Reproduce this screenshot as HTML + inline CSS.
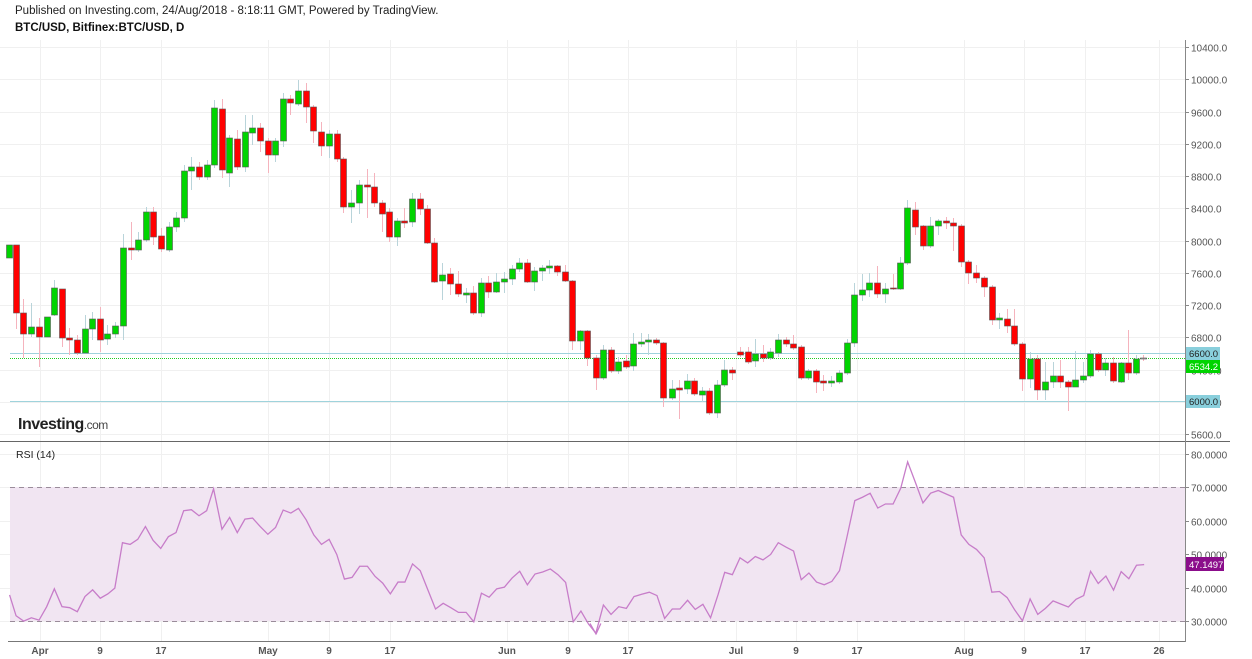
<!DOCTYPE html>
<html><head><meta charset="utf-8"><style>
body{margin:0;background:#fff;width:1252px;height:659px;overflow:hidden;font-family:"Liberation Sans",sans-serif}
</style></head><body>
<svg id="s" width="1252" height="659" xmlns="http://www.w3.org/2000/svg" style="position:absolute;left:0;top:0">
<text x="15" y="14" font-size="11.5" fill="#222">Published on Investing.com, 24/Aug/2018 - 8:18:11 GMT, Powered by TradingView.</text>
<text x="15" y="31" font-size="11.5" font-weight="bold" fill="#111">BTC/USD, Bitfinex:BTC/USD, D</text>
<g id="grid" stroke="#f0f0f0" stroke-width="1"></g>
<rect x="10" y="487" width="1175" height="134" fill="#f1e5f2"/>
<line x1="10" y1="487.5" x2="1185" y2="487.5" stroke="#9a8c9a" stroke-dasharray="5,4"/>
<line x1="10" y1="621.5" x2="1185" y2="621.5" stroke="#9a8c9a" stroke-dasharray="5,4"/>
<line x1="10" y1="353.5" x2="1185" y2="353.5" stroke="#9fd3dc"/>
<line x1="10" y1="401.5" x2="1185" y2="401.5" stroke="#9fd3dc"/>
<line x1="10" y1="358.5" x2="1185" y2="358.5" stroke="#22cc22" stroke-dasharray="1,1"/>
<g id="c"></g>
<g transform="translate(0,440) scale(0.3827,0.3367)"><polyline fill="none" stroke="#c77dc9" stroke-width="1.3" vector-effect="non-scaling-stroke" points="25,460 42,522 62,538 82,528 102,535 122,495 142,442 162,495 182,498 202,510 222,465 242,445 262,470 282,457 300,440 320,305 340,310 360,295 380,257 400,298 420,322 440,287 460,275 480,210 500,207 520,225 540,210 558,145 580,265 600,230 620,275 640,235 660,232 680,257 700,280 720,260 740,208 760,217 780,203 800,237 820,282 840,310 860,295 880,340 900,413 920,408 940,375 960,375 980,405 1000,425 1020,457 1040,422 1058,422 1078,368 1098,388 1118,445 1138,502 1158,485 1178,498 1198,512 1218,512 1238,540 1258,455 1278,467 1298,442 1318,437 1338,410 1358,390 1378,430 1398,398 1418,392 1438,383 1458,400 1478,423 1498,540 1518,508 1538,547 1558,575 1570,545"/></g>
<g transform="translate(590,440) scale(0.3827,0.3367)"><polyline fill="none" stroke="#c77dc9" stroke-width="1.3" vector-effect="non-scaling-stroke" points="0,545 15,575 35,490 55,518 75,495 95,500 115,465 135,458 155,452 175,462 195,530 215,502 235,502 255,476 275,503 295,488 315,528 335,458 352,393 372,400 392,350 412,365 432,346 452,356 472,340 492,305 512,318 532,330 552,415 572,395 592,422 612,430 632,420 652,388 672,285 692,180 712,170 732,158 752,202 772,190 792,190 812,143 830,65 850,125 870,187 890,158 910,150 930,160 950,170 970,282 990,310 1010,325 1030,350 1050,452 1070,450 1090,468 1110,505 1130,537 1150,472 1170,518 1190,500 1210,478 1230,487 1250,496 1270,473 1290,462 1308,390 1328,426 1348,404 1368,446 1388,391 1408,412 1428,372 1448,370"/></g>
<line x1="0" y1="441.5" x2="1230" y2="441.5" stroke="#666"/>
<line x1="8" y1="641.5" x2="1185" y2="641.5" stroke="#777"/>
<line x1="1185.5" y1="40" x2="1185.5" y2="642" stroke="#888"/>
<g id="ax" font-size="10" fill="#555"></g>
<text x="18" y="429" font-size="16" font-weight="bold" fill="#222" letter-spacing="-0.5">Investing<tspan font-size="12" font-weight="normal" fill="#444">.com</tspan></text>
<text x="16" y="458" font-size="10.5" fill="#222">RSI (14)</text>
<rect x="1186" y="347" width="34" height="13" fill="#89cfdc"/><text x="1189" y="357" font-size="9.5" fill="#222">6600.0</text>
<rect x="1186" y="360" width="34" height="13" fill="#00d400"/><text x="1189" y="370" font-size="9.5" fill="#fff">6534.2</text>
<rect x="1186" y="395" width="34" height="13" fill="#89cfdc"/><text x="1189" y="405" font-size="9.5" fill="#222">6000.0</text>
<rect x="1186" y="557" width="38" height="14" fill="#8b0d8b"/><text x="1189" y="568" font-size="9.5" fill="#fff">47.1497</text>
</svg>
<script>
var NS="http://www.w3.org/2000/svg";
function el(p,t,a,txt){var e=document.createElementNS(NS,t);for(var k in a)e.setAttribute(k,a[k]);if(txt!=null)e.textContent=txt;document.getElementById(p).appendChild(e);return e;}
var vx=[40,100,161,268,329,390,507,568,628,736,796,857,964,1024,1085,1159];
var vl=["Apr","9","17","May","9","17","Jun","9","17","Jul","9","17","Aug","9","17","26"];
vx.forEach(function(x,i){el("grid","line",{x1:x+.5,y1:40,x2:x+.5,y2:641});
el("ax","text",{x:x,y:654,"text-anchor":"middle","font-weight":"bold",fill:"#555"},vl[i]);});
for(var p=5600;p<=10400;p+=400){var y=Math.round(47+(10400-p)/400*32.25)+.5;
el("grid","line",{x1:0,y1:y,x2:1185,y2:y});
el("ax","line",{x1:1185,y1:y,x2:1189,y2:y,stroke:"#888"});
el("ax","text",{x:1191,y:y+4},p.toFixed(1));}
[80,70,60,50,40,30].forEach(function(v){var y=Math.round(621-(v-30)*3.34)+.5;
el("grid","line",{x1:0,y1:y,x2:1185,y2:y});
el("ax","line",{x1:1185,y1:y,x2:1189,y2:y,stroke:"#888"});
el("ax","text",{x:1191,y:y+4},v.toFixed(4));});
var C=[
[9,245,258,'g'],[16,245,313,'r',245,329],[23,313,334,'r',299,358],[31,327,334,'g',303,337],[39,327,337,'r',318,367],[47,317,337,'g'],[54,288,315,'g',280,316],[62,289,338,'r',289,347],[69,338,340,'r',328,355],[77,340,353,'r',335,355],[85,329,353,'g',315,353],[92,319,329,'g',312,340],[100,319,340,'r',307,352],[107,334,339,'g',325,345],[115,326,334,'g',322,338],[123,248,326,'g',234,340],[131,248,250,'r',222,260],[138,240,250,'g',232,252],[146,212,240,'g',207,242],[153,212,237,'r',207,245],[161,236,249,'r',228,252],[169,227,250,'g',222,252],[176,218,227,'g',212,232],[184,171,218,'g',165,222],[191,167,171,'g',157,190],[199,167,177,'r',162,180],[207,165,177,'g',160,180],[214,108,165,'g',100,168],[222,109,170,'r',99,178],[229,138,173,'g',135,187],[237,139,167,'r',130,170],[245,132,167,'g',115,172],[252,128,133,'g',115,145],[260,128,141,'r',123,152],[268,141,155,'r',138,173],[275,141,155,'g',138,162],[283,99,141,'g',93,147],[290,99,103,'r',95,115],[298,91,104,'g',80,106],[306,91,107,'r',83,123],[313,107,131,'r',105,143],[321,132,146,'r',122,156],[329,134,146,'g',130,158],[337,134,159,'r',130,162],[343,159,207,'r',157,213],[351,203,207,'g',190,223],[359,185,203,'g',180,214],[367,185,187,'r',169,218],[374,187,203,'r',173,207],[382,203,214,'r',200,232],[389,212,237,'r',208,242],[397,221,237,'g',218,246],[404,221,223,'r',208,228],[412,199,222,'g',193,227],[420,199,209,'r',193,215],[427,209,243,'r',205,244],[434,243,282,'r',238,283],[442,275,281,'g',263,300],[450,274,284,'r',268,295],[458,284,294,'r',271,297],[466,293,295,'g',288,303],[473,293,313,'r',286,315],[481,283,313,'g',278,317],[488,283,292,'r',276,298],[496,282,292,'g',273,293],[504,279,282,'g',272,293],[512,269,279,'g',265,285],[519,263,269,'g',258,272],[527,263,282,'r',259,283],[534,271,282,'g',267,291],[542,268,271,'g',265,281],[549,266,268,'g',260,274],[557,266,272,'r',265,276],[565,272,281,'r',265,282],[572,281,341,'r',280,350],[580,331,341,'g',330,350],[587,331,358,'r',330,366],[596,358,378,'r',355,390],[603,350,378,'g',345,380],[611,350,371,'r',347,373],[618,362,371,'g',357,374],[626,361,367,'r',355,369],[633,344,366,'g',333,371],[641,342,344,'g',333,347],[648,340,342,'g',334,355],[656,340,343,'r',338,345],[663,343,398,'r',342,407],[672,389,398,'g',380,400],[679,388,390,'r',380,419],[687,381,389,'g',374,394],[694,381,394,'r',378,396],[702,391,395,'g',387,402],[709,391,413,'r',388,415],[717,385,413,'g',380,418],[724,370,385,'g',360,387],[732,370,373,'r',367,380],[740,352,355,'r',347,357],[748,352,362,'r',347,364],[755,354,361,'g',339,367],[763,354,358,'r',345,362],[770,352,358,'g',348,360],[778,340,353,'g',334,357],[786,340,344,'r',337,347],[793,344,348,'r',335,350],[801,347,378,'r',345,380],[808,371,378,'g',369,380],[816,371,382,'r',369,393],[823,381,383,'r',375,391],[831,381,383,'g',376,387],[839,373,382,'g',370,384],[847,343,373,'g',339,375],[854,295,343,'g',283,347],[862,290,295,'g',274,301],[869,283,290,'g',273,297],[877,283,294,'r',266,298],[885,289,294,'g',283,303],[893,288,289,'r',274,290],[900,263,289,'g',257,290],[907,208,263,'g',200,265],[915,210,227,'r',202,235],[923,226,246,'r',225,250],[930,226,246,'g',217,248],[938,221,226,'g',219,235],[946,221,223,'r',217,229],[953,223,226,'r',218,251],[961,226,262,'r',224,267],[968,262,273,'r',260,284],[976,273,278,'r',265,283],[984,278,287,'r',276,297],[992,287,320,'r',285,325],[999,318,320,'g',313,329],[1007,319,326,'r',309,333],[1014,326,344,'r',309,346],[1022,344,379,'r',342,391],[1030,359,379,'g',352,388],[1037,359,390,'r',355,400],[1045,382,390,'g',362,400],[1053,376,382,'g',362,388],[1060,376,382,'r',360,388],[1068,382,387,'r',380,411],[1075,380,387,'g',351,387],[1083,376,380,'g',362,383],[1090,354,376,'g',350,378],[1098,354,370,'r',352,372],[1105,363,370,'g',358,376],[1113,363,381,'r',357,383],[1121,363,382,'g',362,383],[1128,363,373,'r',330,380],[1136,359,373,'g',355,375],[1143,358,359,'n',355,361]];
C.forEach(function(c){var x=c[0],t=c[1],b=c[2],col=c[3],wt=c[4]||t,wb=c[5]||b;
var fill=col=='g'?'#00d400':col=='r'?'#f00':'#bbb',wc=col=='g'?'#b9d4da':'#f5b3bd';
el("c","line",{x1:x+.5,y1:wt,x2:x+.5,y2:wb,stroke:wc});
el("c","rect",{x:x-2.5,y:t,width:6,height:Math.max(1,b-t),fill:fill,stroke:"#555","stroke-width":0.6});});
</script>
</body></html>
